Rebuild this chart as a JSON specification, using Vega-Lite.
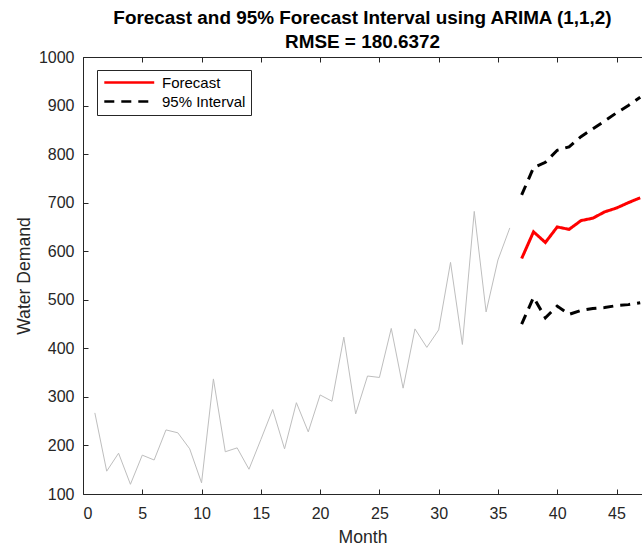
{
  "$schema": "https://vega.github.io/schema/vega-lite/v6.json",
  "width": 559,
  "height": 437,
  "autosize": {"type": "none"},
  "padding": {"left": 83, "top": 57, "right": 0, "bottom": 52},
  "background": "white",
  "title": {
    "text": ["Forecast and 95% Forecast Interval using ARIMA (1,1,2)", "RMSE = 180.6372"],
    "font": "Liberation Sans",
    "fontSize": 18.9,
    "fontWeight": "bold",
    "color": "#000000",
    "lineHeight": 24,
    "anchor": "middle",
    "offset": -3
  },
  "config": {
    "font": "Liberation Sans",
    "view": {"stroke": null},
    "axis": {
      "domainColor": "#262626",
      "domainWidth": 1,
      "tickColor": "#262626",
      "tickSize": -5,
      "tickWidth": 1,
      "labelFont": "Liberation Sans",
      "labelFontSize": 16,
      "labelColor": "#262626",
      "titleFont": "Liberation Sans",
      "titleFontSize": 17.6,
      "titleFontWeight": "normal",
      "titleColor": "#262626",
      "grid": false
    },
    "legend": {
      "labelFont": "Liberation Sans",
      "labelFontSize": 15,
      "labelColor": "#000000",
      "strokeColor": "#262626",
      "fillColor": "white",
      "padding": 5,
      "rowPadding": 3
    }
  },
  "datasets": {
    "history": [
      {"month": 1, "demand": 267}, {"month": 2, "demand": 147}, {"month": 3, "demand": 184},
      {"month": 4, "demand": 120}, {"month": 5, "demand": 180}, {"month": 6, "demand": 170},
      {"month": 7, "demand": 232}, {"month": 8, "demand": 226}, {"month": 9, "demand": 193},
      {"month": 10, "demand": 123}, {"month": 11, "demand": 337}, {"month": 12, "demand": 187},
      {"month": 13, "demand": 195}, {"month": 14, "demand": 151}, {"month": 15, "demand": 212},
      {"month": 16, "demand": 274}, {"month": 17, "demand": 193}, {"month": 18, "demand": 288},
      {"month": 19, "demand": 228}, {"month": 20, "demand": 304}, {"month": 21, "demand": 291},
      {"month": 22, "demand": 423}, {"month": 23, "demand": 265}, {"month": 24, "demand": 343},
      {"month": 25, "demand": 340}, {"month": 26, "demand": 441}, {"month": 27, "demand": 318},
      {"month": 28, "demand": 440}, {"month": 29, "demand": 402}, {"month": 30, "demand": 438},
      {"month": 31, "demand": 577}, {"month": 32, "demand": 408}, {"month": 33, "demand": 682},
      {"month": 34, "demand": 475}, {"month": 35, "demand": 582}, {"month": 36, "demand": 648}
    ],
    "forecast": [
      {"month": 37, "demand": 585, "series": "Forecast", "line": "mean"},
      {"month": 38, "demand": 640, "series": "Forecast", "line": "mean"},
      {"month": 39, "demand": 618, "series": "Forecast", "line": "mean"},
      {"month": 40, "demand": 650, "series": "Forecast", "line": "mean"},
      {"month": 41, "demand": 645, "series": "Forecast", "line": "mean"},
      {"month": 42, "demand": 663, "series": "Forecast", "line": "mean"},
      {"month": 43, "demand": 668, "series": "Forecast", "line": "mean"},
      {"month": 44, "demand": 681, "series": "Forecast", "line": "mean"},
      {"month": 45, "demand": 689, "series": "Forecast", "line": "mean"},
      {"month": 46, "demand": 700, "series": "Forecast", "line": "mean"},
      {"month": 47, "demand": 710, "series": "Forecast", "line": "mean"},
      {"month": 37, "demand": 716, "series": "95% Interval", "line": "upper"},
      {"month": 38, "demand": 772, "series": "95% Interval", "line": "upper"},
      {"month": 39, "demand": 783, "series": "95% Interval", "line": "upper"},
      {"month": 40, "demand": 808, "series": "95% Interval", "line": "upper"},
      {"month": 41, "demand": 815, "series": "95% Interval", "line": "upper"},
      {"month": 42, "demand": 836, "series": "95% Interval", "line": "upper"},
      {"month": 43, "demand": 852, "series": "95% Interval", "line": "upper"},
      {"month": 44, "demand": 868, "series": "95% Interval", "line": "upper"},
      {"month": 45, "demand": 885, "series": "95% Interval", "line": "upper"},
      {"month": 46, "demand": 900, "series": "95% Interval", "line": "upper"},
      {"month": 47, "demand": 917, "series": "95% Interval", "line": "upper"},
      {"month": 37, "demand": 450, "series": "95% Interval", "line": "lower"},
      {"month": 38, "demand": 505, "series": "95% Interval", "line": "lower"},
      {"month": 39, "demand": 463, "series": "95% Interval", "line": "lower"},
      {"month": 40, "demand": 487, "series": "95% Interval", "line": "lower"},
      {"month": 41, "demand": 470, "series": "95% Interval", "line": "lower"},
      {"month": 42, "demand": 478, "series": "95% Interval", "line": "lower"},
      {"month": 43, "demand": 482, "series": "95% Interval", "line": "lower"},
      {"month": 44, "demand": 484, "series": "95% Interval", "line": "lower"},
      {"month": 45, "demand": 488, "series": "95% Interval", "line": "lower"},
      {"month": 46, "demand": 490, "series": "95% Interval", "line": "lower"},
      {"month": 47, "demand": 494, "series": "95% Interval", "line": "lower"}
    ]
  },
  "layer": [
    {
      "data": {"name": "history"},
      "mark": {"type": "line", "color": "#bebebe", "strokeWidth": 1},
      "encoding": {
        "x": {
          "field": "month", "type": "quantitative",
          "scale": {"domain": [0, 47.15], "nice": false, "zero": false},
          "axis": {"title": "Month", "values": [0, 5, 10, 15, 20, 25, 30, 35, 40, 45], "labelPadding": 16, "titlePadding": 7, "orient": "bottom"}
        },
        "y": {
          "field": "demand", "type": "quantitative",
          "scale": {"domain": [100, 1000], "nice": false, "zero": false},
          "axis": {"title": "Water Demand", "format": "d", "values": [100, 200, 300, 400, 500, 600, 700, 800, 900, 1000], "labelPadding": 14, "titlePadding": 5}
        }
      }
    },
    {
      "data": {"name": "forecast"},
      "mark": {"type": "line", "strokeWidth": 3},
      "encoding": {
        "x": {
          "field": "month", "type": "quantitative",
          "axis": {"orient": "top", "title": null, "labels": false, "values": [0, 5, 10, 15, 20, 25, 30, 35, 40, 45]}
        },
        "y": {"field": "demand", "type": "quantitative"},
        "detail": {"field": "line"},
        "color": {
          "field": "series", "type": "nominal",
          "scale": {"domain": ["Forecast", "95% Interval"], "range": ["#ff0000", "#000000"]},
          "legend": {
            "title": null, "orient": "none", "legendX": 14, "legendY": 13,
            "symbolType": "M-1,0H8.6", "symbolSize": 108.16, "symbolStrokeWidth": 2.5, "labelOffset": 45
          }
        },
        "strokeDash": {
          "field": "series", "type": "nominal",
          "scale": {"domain": ["Forecast", "95% Interval"], "range": [[1, 0], [10, 7]]},
          "legend": {
            "title": null, "orient": "none", "legendX": 14, "legendY": 13,
            "symbolType": "M-1,0H8.6", "symbolSize": 108.16, "symbolStrokeWidth": 2.5, "labelOffset": 45
          }
        }
      }
    }
  ],
  "resolve": {"axis": {"x": "independent"}}
}
